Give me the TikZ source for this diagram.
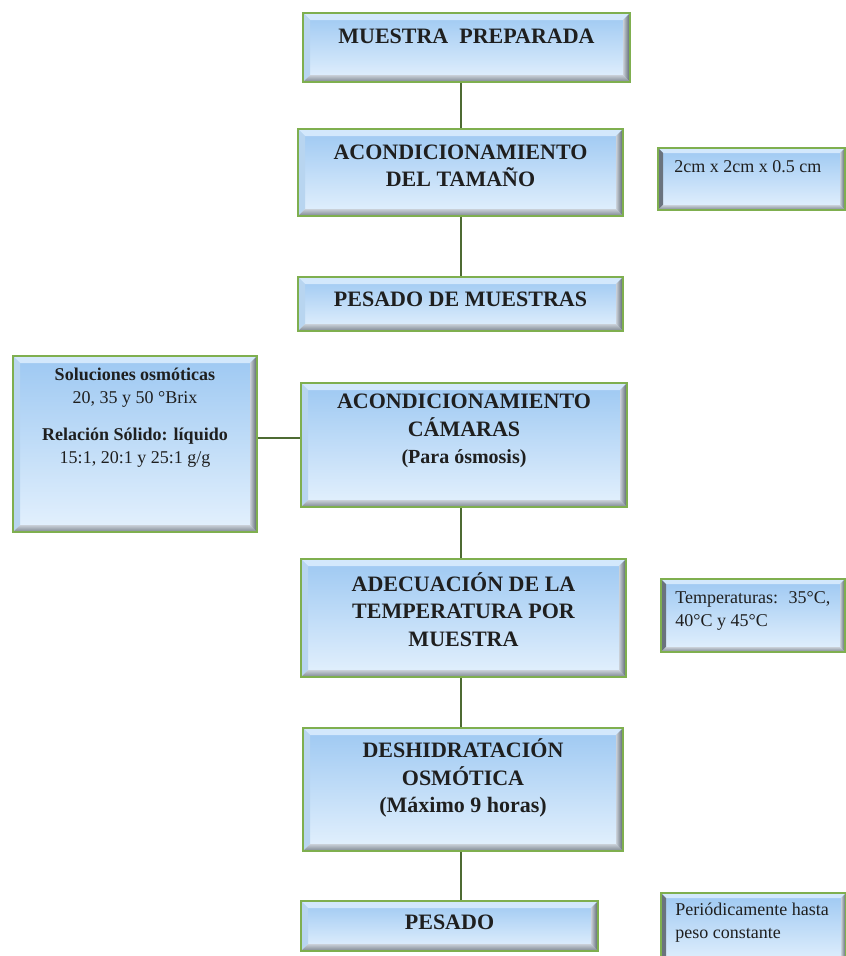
\documentclass[tikz,border=0pt]{standalone}
\usepackage{fontspec}
\setmainfont{Liberation Serif}
\definecolor{btop}{HTML}{9DC8F2}
\definecolor{bbot}{HTML}{E4F1FD}
\definecolor{bgreen}{HTML}{7FAF4F}
\definecolor{lgreen}{HTML}{4E6B32}
\definecolor{bvtop}{HTML}{D3E8FC}
\definecolor{bvbl}{HTML}{C9D0D8}
\definecolor{bvbd}{HTML}{7C8590}
\definecolor{bvr}{HTML}{56606B}
\definecolor{bvl}{HTML}{B8D5F0}
\definecolor{bvld}{HTML}{6A737E}
\tikzset{
  bevel/.style 2 args={path picture={
    \coordinate (pLL) at (path picture bounding box.south west);
    \coordinate (pUR) at (path picture bounding box.north east);
    \coordinate (pUL) at (path picture bounding box.north west);
    \coordinate (pLR) at (path picture bounding box.south east);
    \fill[bvtop] (pUL) -- (pUR) -- ([xshift=-#1,yshift=-#1]pUR) -- ([xshift=#1,yshift=-#1]pUL) -- cycle;
    \fill[#2] (pUL) -- ([xshift=#1,yshift=-#1]pUL) -- ([xshift=#1,yshift=#1]pLL) -- (pLL) -- cycle;
    \shade[top color=bvbl, bottom color=bvbd] (pLL) -- ([xshift=#1,yshift=#1]pLL) -- ([xshift=-#1,yshift=#1]pLR) -- (pLR) -- cycle;
    \shade[left color=bvbl, right color=bvr] (pUR) -- (pLR) -- ([xshift=-#1,yshift=#1]pLR) -- ([xshift=-#1,yshift=-#1]pUR) -- cycle;
  }},
  box/.style={rectangle, inner sep=0pt, draw=bgreen, line width=1.6pt,
    top color=btop, bottom color=bbot, bevel={7pt}{bvl}},
  sidebox/.style={rectangle, inner sep=0pt, draw=bgreen, line width=1.6pt,
    top color=btop, bottom color=bbot, bevel={5pt}{bvld}},
  mt/.style={align=center, inner sep=0pt, font=\fontsize{22}{27.5}\selectfont\bfseries, text=black!88},
  lt/.style={align=center, inner sep=0pt, font=\fontsize{18}{23}\selectfont, text=black!88},
  st/.style={align=left, inner sep=0pt, anchor=north west, font=\fontsize{18}{23}\selectfont, text=black!88},
  conn/.style={draw=lgreen, line width=2.2pt}
}
\begin{document}
\begin{tikzpicture}[x=1pt,y=-1pt]
\useasboundingbox (0,0) rectangle (846,956);
\fill[white] (0,0) rectangle (846,956);

% main boxes
\node[box, minimum width=327pt, minimum height=69pt]  (B1) at (466.5,47.5) {};
\node[box, minimum width=325pt, minimum height=87pt]  (B2) at (460.5,172.5) {};
\node[box, minimum width=325pt, minimum height=54pt]  (B3) at (460.5,304) {};
\node[box, minimum width=326pt, minimum height=124pt] (B4) at (464,445) {};
\node[box, minimum width=325pt, minimum height=118pt] (B5) at (463.5,618) {};
\node[box, minimum width=320pt, minimum height=123pt] (B6) at (463,789.5) {};
\node[box, minimum width=297pt, minimum height=50pt]  (B7) at (449.5,926) {};
% left box
\node[box, minimum width=244pt, minimum height=176pt] (L) at (135,444) {};
% side boxes
\node[sidebox, minimum width=187pt, minimum height=62pt] (S1) at (751.5,179) {};
\node[sidebox, minimum width=184pt, minimum height=73pt] (S2) at (753,615.5) {};
\node[sidebox, minimum width=185pt, minimum height=72pt] (S3) at (753.5,929) {};

% texts
\node[mt] (B1t) at ([yshift=11.5pt]B1.center) {MUESTRA\ \ PREPARADA};
\node[mt] (B2t) at ([yshift=6.5pt]B2.center) {ACONDICIONAMIENTO\\DEL TAMAÑO};
\node[mt] (B3t) at ([yshift=4.5pt]B3.center) {PESADO DE MUESTRAS};
\node[mt] (B4t) at ([yshift=14pt]B4.center) {ACONDICIONAMIENTO\\CÁMARAS\\{\fontsize{20}{26}\selectfont (Para ósmosis)}};
\node[mt] (B5t) at ([yshift=8.5pt]B5.center) {ADECUACIÓN DE LA\\TEMPERATURA POR\\MUESTRA};
\node[mt] (B6t) at ([yshift=11.5pt]B6.center) {DESHIDRATACIÓN\\OSMÓTICA\\(Máximo 9 horas)};
\node[mt] (B7t) at ([yshift=3.5pt]B7.center) {PESADO};
\node[lt] (Lt) at ([yshift=26pt]L.center) {\textbf{Soluciones osmóticas}\\20, 35 y 50 °Brix\\[14pt]\textbf{Relación Sólido: líquido}\\15:1, 20:1 y 25:1 g/g};
\node[st] (S1t) at ([xshift=17pt,yshift=-13pt]S1.north west) {2cm x 2cm x 0.5 cm};
\node[st] (S2t) at ([xshift=15pt,yshift=-13pt]S2.north west) {Temperaturas:~ 35°C,\\40°C y 45°C};
\node[st] (S3t) at ([xshift=15pt,yshift=-11pt]S3.north west) {Periódicamente hasta\\peso constante};

% connectors
\coordinate (ax) at (461,0);
\coordinate (hy) at (0,438);
\draw[conn] (B1.south -| ax) -- (B2.north -| ax);
\draw[conn] (B2.south -| ax) -- (B3.north -| ax);
\draw[conn] (B4.south -| ax) -- (B5.north -| ax);
\draw[conn] (B5.south -| ax) -- (B6.north -| ax);
\draw[conn] (B6.south -| ax) -- (B7.north -| ax);
\draw[conn] (L.east |- hy) -- (B4.west |- hy);
\end{tikzpicture}
\end{document}
